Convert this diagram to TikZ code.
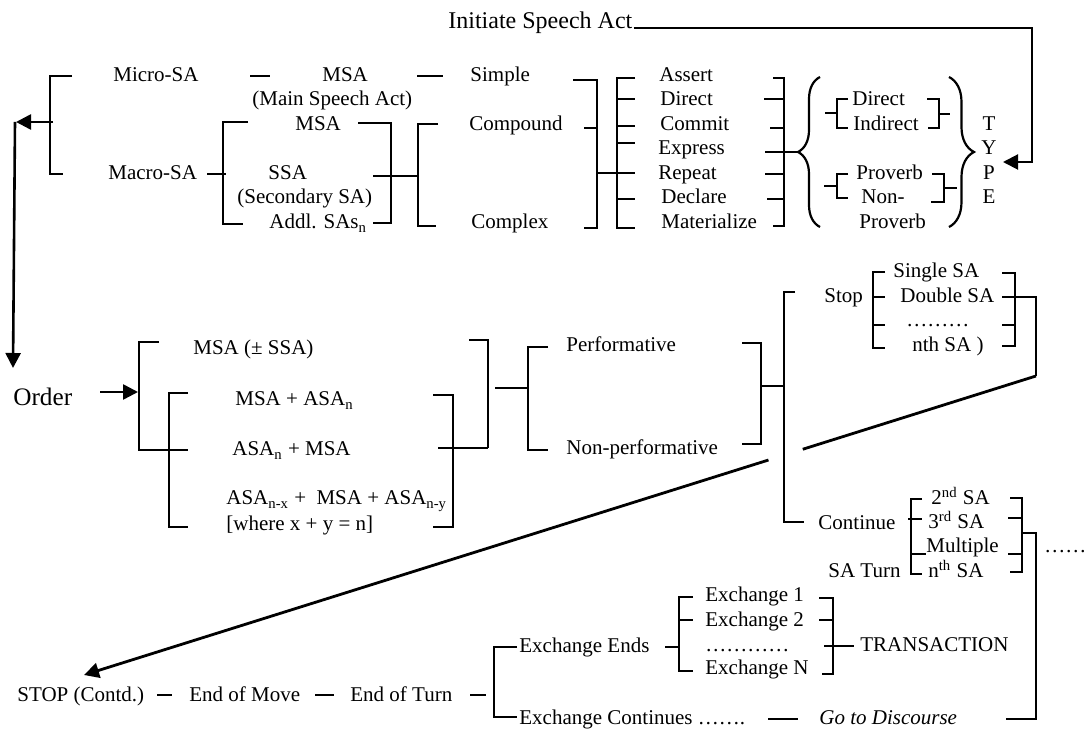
\documentclass[tikz,border=0pt]{standalone}
\usepackage{fontspec}
\setmainfont{Liberation Serif}
\usetikzlibrary{arrows.meta,decorations.pathreplacing,calc}
\begin{document}
\begin{tikzpicture}[x=0.5pt,y=-0.5pt,
  lbl/.style={inner sep=0pt, anchor=base west, font=\fontsize{10.5pt}{12pt}\selectfont},
  lblc/.style={inner sep=0pt, anchor=base, font=\fontsize{10.5pt}{12pt}\selectfont},
  br/.style={line width=1.1pt},
  arr/.style={line width=1.3pt, -{Triangle[length=7.5pt,width=7.5pt]}},
  diag/.style={line width=1.4pt},
  brc/.style={line width=1.1pt, decorate, decoration={brace, amplitude=#1}}]
\useasboundingbox (0,0) rectangle (1088,731);

% ---------- top section: texts ----------
\node[lbl, font=\fontsize{12pt}{14pt}\selectfont] (init) at (448,29) {Initiate Speech Act};
\node[lbl] (micro) at (113,82) {Micro-SA};
\node[lbl] (msa1) at (322,82) {MSA};
\node[lbl] (msa1b) at (252,106) {(Main Speech Act)};
\node[lbl] (simple) at (470,82) {Simple};
\node[lbl] (macro) at (108,180) {Macro-SA};
\node[lbl] (msa2) at (295,131) {MSA};
\node[lbl] (ssa) at (268,180) {SSA};
\node[lbl] (ssab) at (237,204) {(Secondary SA)};
\node[lbl] (addl) at (269,229) {Addl. SAs\textsubscript{n}};
\node[lbl] (compound) at (469,131) {Compound};
\node[lbl] (complex) at (471,229) {Complex};
\node[lbl] (assert) at (659,82) {Assert};
\node[lbl] (direct) at (660,106) {Direct};
\node[lbl] (commit) at (660,131) {Commit};
\node[lbl] (express) at (658,155) {Express};
\node[lbl] (repeat) at (658,180) {Repeat};
\node[lbl] (declare) at (661,204) {Declare};
\node[lbl] (materialize) at (661,229) {Materialize};
\node[lbl] (dir) at (852,106) {Direct};
\node[lbl] (indir) at (853,131) {Indirect};
\node[lbl] (prov) at (856,180) {Proverb};
\node[lbl] (nonprov) at (861,204) {Non-};
\node[lbl] (nonprovb) at (859,229) {Proverb};
\node[lblc] (tT) at (989,131) {T};
\node[lblc] (tY) at (989,155) {Y};
\node[lblc] (tP) at (989,180) {P};
\node[lblc] (tE) at (989,204) {E};

% ---------- top section: lines ----------
\draw[line width=1pt, -{Triangle[length=7.5pt,width=7.5pt]}] ($(init.base east)+(1,-1)$) -- (1032,28) -- (1032,162) -- (1003,162);
\draw[br] (72,76) -- (50,76) -- (50,174) -- (63,174);
\draw[arr] (53,122) -- (16,122);
\draw[arr] (15,122) -- (13,368);
\draw[br] (250,76) -- (270,76);
\draw[br] (417,76) -- (443,76);
\draw[br] (207,174) -- (226,174);
\draw[br] (248,122) -- (223,122) -- (223,224) -- (243,224);
\draw[br] (358,123) -- (391,123) -- (391,223) -- (373,223);
\draw[br] (373,176) -- (418,176);
\draw[br] (438,124) -- (418,124) -- (418,226) -- (436,226);
\draw[br] (573,80) -- (597,80) -- (597,228) -- (584,228);
\draw[br] (584,128) -- (597,128);
\draw[br] (597,173) -- (617,173);
\draw[br] (635,78) -- (617,78) -- (617,228) -- (635,228);
\foreach \yy in {99,126,143,173,199} \draw[br] (617,\yy) -- (635,\yy);
\draw[br] (773,78) -- (784,78) -- (784,226) -- (773,226);
\foreach \xx/\yy in {764/99,770/128,765/174,767/199} \draw[br] (\xx,\yy) -- (784,\yy);
\draw[br] (765,152) -- (798,152);
\draw[brc=11pt] (820,227) -- (820,77);
\draw[br] (825,113) -- (837,113);
\draw[br] (848,99) -- (837,99) -- (837,128) -- (848,128);
\draw[br] (927,99) -- (939,99) -- (939,128) -- (928,128);
\draw[br] (939,114) -- (950,114);
\draw[br] (824,186) -- (837,186);
\draw[br] (848,174) -- (837,174) -- (837,198) -- (848,198);
\draw[br] (932,174) -- (944,174) -- (944,202) -- (931,202);
\draw[br] (944,188) -- (957,188);
\draw[brc=12.5pt] (949,77) -- (949,227);

% ---------- middle section: texts ----------
\node[lbl, font=\fontsize{12.6pt}{14pt}\selectfont] (order) at (13,406) {Order};
\node[lbl] (m1) at (193,355) {MSA (± SSA)};
\node[lbl] (m2) at (235,406) {MSA + ASA\textsubscript{n}};
\node[lbl] (m3) at (232,456) {ASA\textsubscript{n} + MSA};
\node[lbl] (m4) at (226,505) {ASA\textsubscript{n-x} +\ \ MSA + ASA\textsubscript{n-y}};
\node[lbl] (m4b) at (226,531) {[where x + y = n]};
\node[lbl] (perf) at (566,352) {Performative};
\node[lbl] (nonperf) at (566,455) {Non-performative};
\node[lbl] (stop) at (824,303) {Stop};
\node[lbl] (single) at (893,278) {Single SA};
\node[lbl] (double) at (900,303) {Double SA};
\node[lbl] (sdots) at (906,327) {………};
\node[lbl] (nth) at (912,352) {nth SA )};
\node[lbl] (cont) at (818,530) {Continue};
\node[lbl] (c2) at (931,505) {2\textsuperscript{nd} SA};
\node[lbl] (c3) at (928,529) {3\textsuperscript{rd} SA};
\node[lbl] (cm) at (926,553) {Multiple};
\node[lbl] (cn) at (928,578) {n\textsuperscript{th} SA};
\node[lbl] (saturn) at (828,578) {SA Turn};
\node[lbl] (rdots) at (1044,553) {……};

% ---------- middle section: lines ----------
\draw[arr] (100,392) -- (138,392);
\draw[br] (159,342) -- (139,342) -- (139,450) -- (188,450);
\draw[br] (188,393) -- (169,393) -- (169,527) -- (188,527);
\draw[br] (433,395) -- (453,395) -- (453,527) -- (433,527);
\draw[br] (438,448) -- (488,448);
\draw[br] (469,340) -- (488,340) -- (488,448);
\draw[br] (495,388) -- (528,388);
\draw[br] (548,347) -- (528,347) -- (528,450) -- (548,450);
\draw[br] (742,343) -- (761,343) -- (761,444) -- (742,444);
\draw[br] (761,386) -- (783,386);
\draw[br] (795,292) -- (784,292) -- (784,522) -- (804,522);
\draw[br] (885,272) -- (873,272) -- (873,348) -- (885,348);
\draw[br] (873,297) -- (885,297);
\draw[br] (873,325) -- (885,325);
\draw[br] (1002,273) -- (1015,273) -- (1015,346) -- (1002,346);
\draw[br] (1002,325) -- (1015,325);
\draw[br] (1002,297) -- (1036,297) -- (1036,376);
\draw[br] (922,499) -- (911,499) -- (911,574) -- (922,574);
\draw[br] (908,519) -- (922,519);
\draw[br] (911,554) -- (926,554);
\draw[br] (1010,498) -- (1022,498) -- (1022,572) -- (1010,572);
\draw[br] (1008,518) -- (1022,518);
\draw[br] (1008,554) -- (1022,554);
\draw[br] (1022,533) -- (1036,533) -- (1036,719) -- (1006,719);

% ---------- bottom section: texts ----------
\node[lbl] (stopc) at (17,702) {STOP (Contd.)};
\node[lbl] (endmove) at (189,702) {End of Move};
\node[lbl] (endturn) at (350,702) {End of Turn};
\node[lbl] (exends) at (519,653) {Exchange Ends};
\node[lbl] (ex1) at (705,602) {Exchange 1};
\node[lbl] (ex2) at (705,627) {Exchange 2};
\node[lbl] (exdots) at (705,652) {…………};
\node[lbl] (exn) at (705,675) {Exchange N};
\node[lbl] (trans) at (860,652) {TRANSACTION};
\node[lbl] (excont) at (519,725) {Exchange Continues …….};
\node[lbl, font=\fontsize{10.5pt}{12pt}\selectfont\itshape] (goto) at (819,725) {Go to Discourse};

% ---------- bottom section: lines ----------
\coordinate (d1) at (1036,376);
\coordinate (stoptip) at (84,675);
\draw[diag] (d1) -- ($(d1)!0.245!(stoptip)$);
\draw[diag, -{Triangle[length=7.5pt,width=7.5pt]}] ($(d1)!0.281!(stoptip)$) -- (stoptip);
\draw[br] (157,695) -- (172,695);
\draw[br] (315,695) -- (334,695);
\draw[br] (470,695) -- (486,695);
\draw[br] (517,647) -- (494,647) -- (494,717) -- (517,717);
\draw[br] (665,647) -- (679,647);
\draw[br] (693,597) -- (679,597) -- (679,671) -- (693,671);
\draw[br] (679,620) -- (693,620);
\draw[br] (819,598) -- (833,598) -- (833,674) -- (822,674);
\draw[br] (819,620) -- (833,620);
\draw[br] (824,646) -- (854,646);
\draw[br] (768,719) -- (798,719);
\end{tikzpicture}
\end{document}
